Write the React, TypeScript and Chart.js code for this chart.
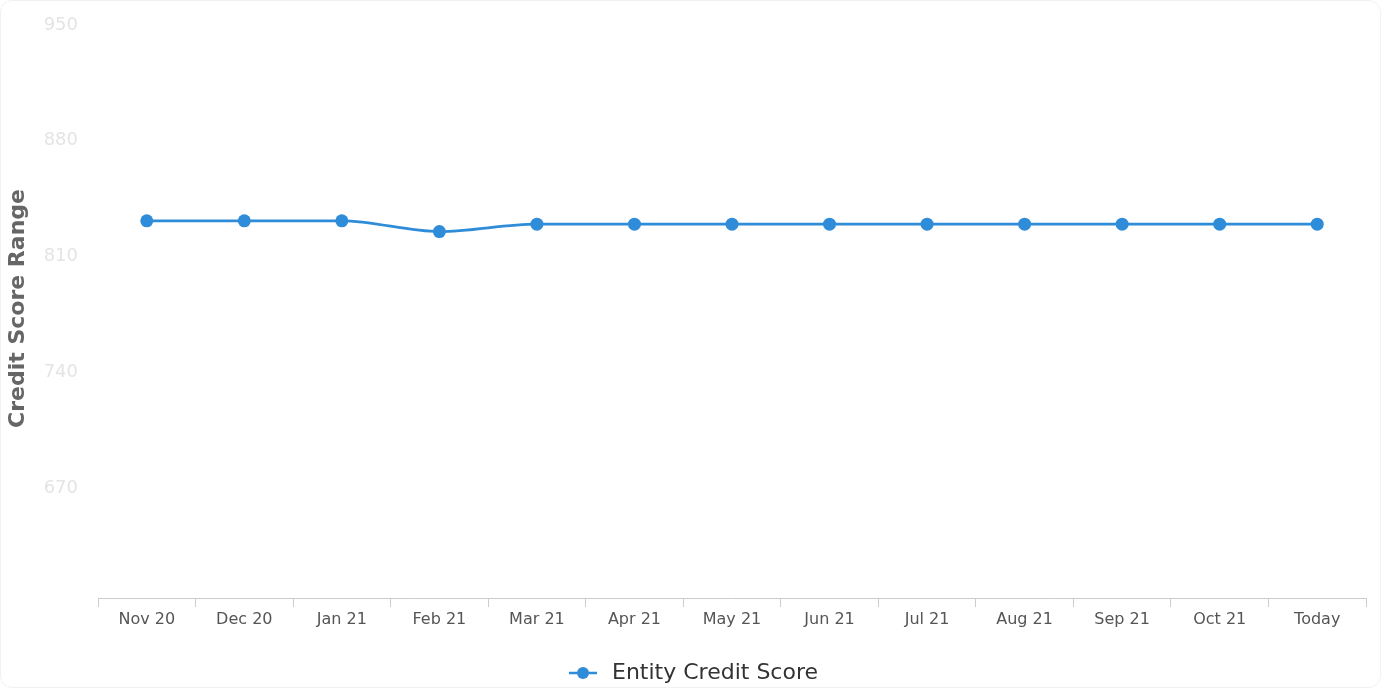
import React, { useEffect, useRef } from "react";
import { Chart, registerables } from "chart.js";

Chart.register(...registerables);

const categories = ["Nov 20", "Dec 20", "Jan 21", "Feb 21", "Mar 21", "Apr 21", "May 21", "Jun 21", "Jul 21", "Aug 21", "Sep 21", "Oct 21", "Today"];
const creditScores = [828, 828, 828, 821.5, 826, 826, 826, 826, 826, 826, 826, 826, 826];
const seriesName = "Entity Credit Score";
const yMin = 600;
const yMax = 950;
const yStep = 70;

const BLUE = "#2f8cd8";

function makeLegendMarker(): HTMLCanvasElement {
  const c = document.createElement("canvas");
  c.width = 48;
  c.height = 14;
  const ctx = c.getContext("2d")!;
  ctx.strokeStyle = BLUE;
  ctx.lineWidth = 2.5;
  ctx.beginPath();
  ctx.moveTo(16, 7);
  ctx.lineTo(44, 7);
  ctx.stroke();
  ctx.fillStyle = BLUE;
  ctx.beginPath();
  ctx.arc(30, 7, 6, 0, Math.PI * 2);
  ctx.fill();
  return c;
}

export default function App() {
  const ref = useRef<HTMLCanvasElement | null>(null);

  useEffect(() => {
    if (!ref.current) return;
    const marker = makeLegendMarker();
    const chart = new Chart(ref.current, {
      type: "line",
      data: {
        labels: categories,
        datasets: [
          {
            label: seriesName,
            data: creditScores,
            borderColor: BLUE,
            backgroundColor: BLUE,
            borderWidth: 2.8,
            pointRadius: 6.5,
            pointBackgroundColor: BLUE,
            pointBorderWidth: 0,
            pointStyle: "circle",
            cubicInterpolationMode: "monotone",
            fill: false,
          },
        ],
      },
      options: {
        animation: false,
        responsive: false,
        maintainAspectRatio: false,
        layout: { padding: { left: 4, right: 14, top: 18, bottom: 0 } },
        plugins: {
          tooltip: { enabled: false },
          legend: {
            position: "bottom",
            labels: {
              usePointStyle: true,
              pointStyleWidth: 48,
              color: "#333",
              padding: 5,
              font: { family: "DejaVu Sans", size: 22 },
              generateLabels: (ch: any) =>
                ch.data.datasets.map((ds: any, i: number) => ({
                  text: ds.label,
                  fillStyle: BLUE,
                  strokeStyle: BLUE,
                  lineWidth: 0,
                  pointStyle: marker,
                  hidden: false,
                  datasetIndex: i,
                  fontColor: "#333",
                })),
            },
          },
        },
        scales: {
          x: {
            type: "category",
            offset: true,
            grid: {
              display: true,
              offset: true,
              drawOnChartArea: false,
              drawTicks: true,
              tickLength: 9,
              color: "#cccccc",
            },
            border: { display: true, color: "#cccccc" },
            ticks: {
              color: "#555",
              padding: 3,
              maxRotation: 0,
              autoSkip: false,
              font: { family: "DejaVu Sans", size: 16 },
            },
            afterFit: (scale: any) => {
              scale.height = 59;
            },
          },
          y: {
            min: yMin,
            max: yMax,
            grid: { display: false },
            border: { display: false },
            ticks: {
              stepSize: yStep,
              color: "#e4e4e4",
              padding: 12,
              labelOffset: 6,
              font: { family: "DejaVu Sans", size: 18 },
              callback: (v: any) => (Number(v) === yMin ? "" : String(v)),
            },
            title: {
              display: true,
              text: "Credit Score Range",
              color: "#666",
              padding: { top: 0, bottom: 14 },
              font: { family: "DejaVu Sans", size: 22, weight: "bold" },
            },
            afterFit: (scale: any) => {
              scale.width = 93;
              scale.paddingTop = 0;
              scale.paddingBottom = 0;
            },
          },
        },
      },
    });
    return () => chart.destroy();
  }, []);

  return (
    <div
      style={{
        position: "absolute",
        left: 0,
        top: 0,
        width: 1381,
        height: 688,
        boxSizing: "border-box",
        border: "1px solid #f2f2f2",
        borderRadius: 12,
        background: "#fff",
        overflow: "hidden",
      }}
    >
      <canvas ref={ref} width={1379} height={693} style={{ display: "block" }} />
    </div>
  );
}
